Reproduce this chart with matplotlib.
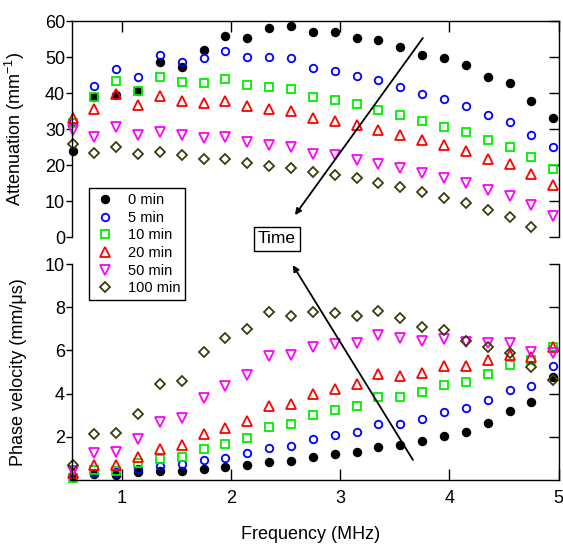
import numpy as np
import matplotlib
matplotlib.use('Agg')
import matplotlib.pyplot as plt

plt.rcParams['font.family'] = ['Liberation Sans', 'DejaVu Sans']
plt.rcParams['mathtext.fontset'] = 'custom'
plt.rcParams['mathtext.rm'] = 'Liberation Sans'

freq = [0.55, 0.75, 0.95, 1.15, 1.35, 1.55, 1.75, 1.95, 2.15, 2.35, 2.55, 2.75,
        2.95, 3.15, 3.35, 3.55, 3.75, 3.95, 4.15, 4.35, 4.55, 4.75, 4.95]
labels = ['0 min', '5 min', '10 min', '20 min', '50 min', '100 min']

# attenuation (mm^-1)
att_0 = [23.9, 38.9, 39.4, 40.6, 48.5, 47.1, 52.0, 55.8, 55.3, 58.1, 58.7, 56.9,
         57.0, 55.4, 54.8, 52.7, 50.7, 49.7, 47.8, 44.4, 42.9, 37.9, 33.1]
att_5 = [32.0, 41.9, 46.7, 44.4, 50.5, 48.7, 49.6, 51.7, 50.0, 50.0, 49.8, 46.9,
         46.1, 44.8, 43.7, 41.8, 39.8, 38.4, 36.5, 33.8, 31.9, 28.3, 24.9]
att_10 = [31.6, 39.0, 43.3, 40.6, 44.4, 43.1, 42.9, 43.9, 42.2, 41.8, 41.1, 38.8,
          38.1, 36.9, 35.4, 33.9, 32.1, 30.7, 29.1, 26.9, 25.1, 22.3, 18.9]
att_20 = [33.0, 35.6, 39.7, 36.6, 39.1, 37.9, 37.2, 37.9, 36.4, 35.6, 35.0, 33.1,
          32.2, 31.0, 29.7, 28.4, 26.9, 25.6, 23.9, 21.8, 20.2, 17.6, 14.4]
att_50 = [29.7, 27.9, 30.6, 28.3, 29.2, 28.3, 27.5, 27.8, 26.3, 25.6, 24.9, 23.2,
          22.7, 21.5, 20.4, 19.2, 17.7, 16.5, 15.1, 13.1, 11.4, 8.9, 5.8]
att_100 = [25.8, 23.4, 25.1, 23.2, 23.6, 22.8, 21.8, 21.7, 20.6, 19.8, 19.2, 18.0,
           17.3, 16.3, 15.1, 13.8, 12.4, 10.9, 9.5, 7.5, 5.6, 2.9, np.nan]

# phase velocity (mm/us)
vel_0 = [0.12, 0.26, 0.23, 0.39, 0.40, 0.43, 0.52, 0.59, 0.68, 0.83, 0.90, 1.06,
         1.20, 1.31, 1.51, 1.62, 1.81, 2.05, 2.24, 2.65, 3.19, 3.60, 4.75]
vel_5 = [0.15, 0.34, 0.39, 0.51, 0.65, 0.73, 0.93, 1.00, 1.23, 1.48, 1.56, 1.90,
         2.07, 2.21, 2.58, 2.59, 2.84, 3.13, 3.33, 3.72, 4.18, 4.37, 5.29]
vel_10 = [0.08, 0.46, 0.42, 0.77, 0.97, 1.08, 1.45, 1.67, 1.96, 2.44, 2.59, 3.02,
          3.23, 3.41, 3.86, 3.86, 4.09, 4.41, 4.55, 4.92, 5.31, 5.56, 6.14]
vel_20 = [0.31, 0.69, 0.69, 1.05, 1.42, 1.62, 2.11, 2.39, 2.75, 3.43, 3.52, 4.00,
          4.23, 4.43, 4.91, 4.81, 4.97, 5.28, 5.28, 5.56, 5.79, 5.68, 6.14]
vel_50 = [0.43, 1.27, 1.28, 1.88, 2.69, 2.87, 3.81, 4.35, 4.85, 5.74, 5.79, 6.17,
          6.30, 6.33, 6.71, 6.56, 6.45, 6.53, 6.40, 6.33, 6.33, 5.94, 5.86]
vel_100 = [0.69, 2.15, 2.18, 3.07, 4.44, 4.60, 5.93, 6.57, 6.99, 7.79, 7.61, 7.78,
           7.75, 7.61, 7.82, 7.48, 7.10, 6.93, 6.45, 6.17, 5.86, 5.25, 4.63]

att = [att_0, att_5, att_10, att_20, att_50, att_100]
vel = [vel_0, vel_5, vel_10, vel_20, vel_50, vel_100]

styles = [dict(marker='o', mfc='black', mec='black', ms=5.5),
          dict(marker='o', mfc='none', mec='#0000ff', ms=5.4),
          dict(marker='s', mfc='none', mec='#00ee00', ms=5.2),
          dict(marker='^', mfc='none', mec='#ff0000', ms=6.5),
          dict(marker='v', mfc='none', mec='#ff00ff', ms=6.5),
          dict(marker='D', mfc='none', mec='#3c3c0c', ms=5.0)]

fig = plt.figure(figsize=(5.63, 5.44), dpi=100)
ax1 = fig.add_axes([0.1279, 0.5643, 0.8644, 0.397])
ax2 = fig.add_axes([0.1279, 0.1176, 0.8644, 0.397])

for v, st, lab in zip(att, styles, labels):
    ax1.plot(freq, v, ls='none', mew=1.3, clip_on=False, label=lab, **st)
for v, st in zip(vel, styles):
    ax2.plot(freq, v, ls='none', mew=1.3, clip_on=False, **st)

for a in (ax1, ax2):
    a.set_xlim(0.545, 5.0)
    a.set_facecolor('none')
    for s in a.spines.values():
        s.set_linewidth(1.0)
    a.tick_params(axis='y', which='both', direction='out', length=4, width=1.0,
                  labelsize=13, pad=1)
    a.set_xticks([1, 2, 3, 4, 5])

# top panel
ax1.set_ylim(0, 60)
ax1.set_yticks(range(0, 61, 10))
ax1.spines['bottom'].set_visible(False)
ax1.tick_params(axis='x', bottom=False, top=True, labelbottom=False,
                direction='in', length=8, width=1.0)
ax1.set_ylabel(r'Attenuation (mm$^{\mathregular{-1}}$)', fontsize=13)
ax1.yaxis.set_label_coords(-0.093, 0.5)

# bottom panel
ax2.set_ylim(0, 10)
ax2.set_yticks([2, 4, 6, 8, 10])
ax2.spines['top'].set_visible(False)
ax2.tick_params(axis='x', direction='in', length=8, width=1.0, labelsize=13, pad=7)
ax2.set_ylabel('Phase velocity (mm/\u03bcs)', fontsize=13)
ax2.yaxis.set_label_coords(-0.093, 0.5)
ax2.set_xlabel('Frequency (MHz)', fontsize=13)
ax2.xaxis.set_label_coords(0.49, -0.212)

# inward ticks on the right spines, outward on the left
for a in (ax1, ax2):
    a.tick_params(axis='y', right=True)
    for t in a.yaxis.get_major_ticks():
        t.tick2line.set_marker(matplotlib.lines.TICKLEFT)
        t.tick2line.set_markersize(7)

# arrows
ax1.annotate('', xy=(2.586, 6.1), xytext=(3.757, 55.3),
             arrowprops=dict(arrowstyle='-|>', color='black', lw=1.3,
                             mutation_scale=9, shrinkA=0, shrinkB=0))
ax2.annotate('', xy=(2.566, 9.95), xytext=(3.666, 0.93),
             arrowprops=dict(arrowstyle='-|>', color='black', lw=1.3,
                             mutation_scale=9, shrinkA=0, shrinkB=0),
             annotation_clip=False)

fig.text(0.492, 0.5607, 'Time', fontsize=12.5, ha='center', va='center',
         bbox=dict(boxstyle='square,pad=0.25', fc='white', ec='black', lw=1.0))

h, l = ax1.get_legend_handles_labels()
leg = fig.legend(h, l, loc='upper left', bbox_to_anchor=(0.158, 0.6544),
                 fontsize=10.5, frameon=True, fancybox=False, framealpha=1,
                 edgecolor='black', handletextpad=0.8, labelspacing=0.25,
                 borderpad=0.35, handlelength=1.5, borderaxespad=0)
leg.get_frame().set_linewidth(1.0)

fig.savefig('out.png', dpi=100)
